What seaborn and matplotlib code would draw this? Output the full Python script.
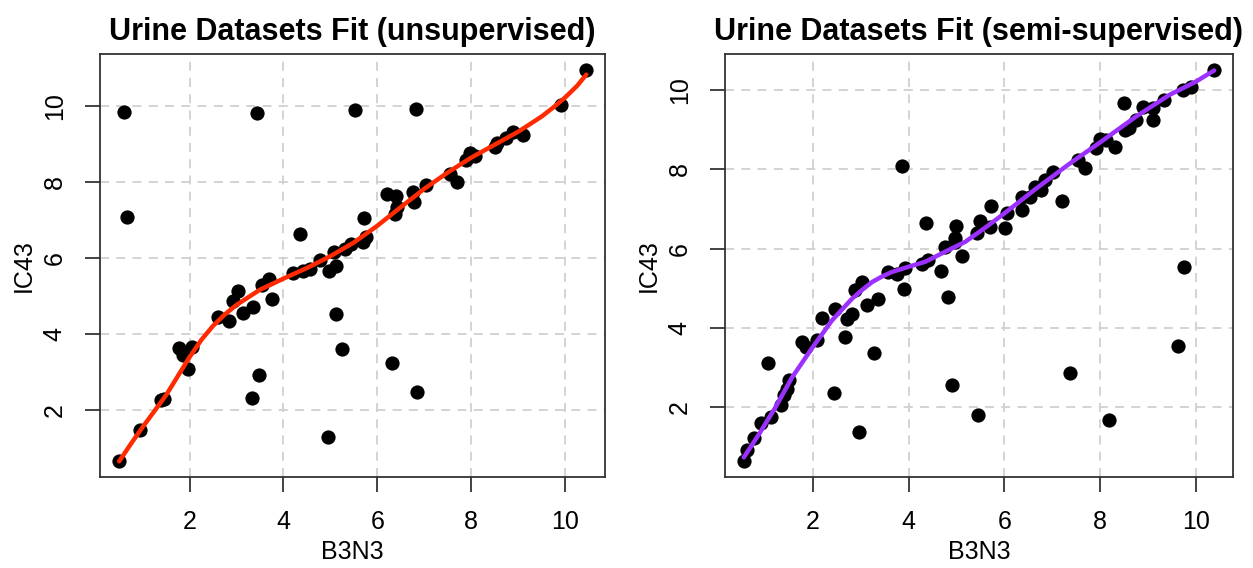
import pandas as pd
import seaborn as sns
import matplotlib.pyplot as plt

# points
unsup_x = [0.49, 0.95, 1.39, 1.46, 1.78, 1.87, 2.06, 1.97, 2.60, 2.83, 2.93, 3.03, 3.13, 3.36,
           3.55, 3.69, 3.76, 3.47, 3.33, 4.95, 5.12, 5.25, 4.21, 4.42, 4.56, 4.77, 4.98, 5.11,
           5.07, 5.30, 5.43, 5.69, 5.76, 5.71, 6.20, 6.39, 6.37, 6.42, 6.76, 6.78, 7.04, 7.55,
           7.69, 7.89, 7.97, 8.08, 8.50, 8.54, 8.75, 8.89, 9.10, 9.91, 10.45,
           0.60, 3.43, 5.53, 6.83, 0.67, 4.36, 6.32, 6.85]
unsup_y = [0.66, 1.49, 2.27, 2.29, 3.63, 3.45, 3.67, 3.08, 4.44, 4.35, 4.86, 5.14, 4.57, 4.72,
           5.30, 5.45, 4.93, 2.93, 2.33, 1.30, 4.53, 3.61, 5.62, 5.67, 5.72, 5.96, 5.65, 5.78,
           6.16, 6.25, 6.38, 6.42, 6.55, 7.06, 7.68, 7.63, 7.17, 7.34, 7.74, 7.48, 7.92, 8.22,
           8.00, 8.58, 8.75, 8.68, 8.93, 9.02, 9.15, 9.30, 9.23, 10.03, 10.95,
           9.83, 9.80, 9.90, 9.92, 7.08, 6.64, 3.25, 2.48]

# fitted curve, unsupervised
unsup_fit_x = [0.5, 0.75, 1.0, 1.25, 1.5, 1.75, 2.0, 2.25, 2.5, 2.75, 3.0, 3.5, 4.0, 4.5, 5.0,
               5.5, 6.0, 6.5, 7.0, 7.5, 8.0, 8.5, 9.0, 9.5, 9.75, 10.0, 10.25, 10.45]
unsup_fit_y = [0.66, 1.12, 1.56, 1.98, 2.40, 2.90, 3.40, 3.85, 4.22, 4.52, 4.77, 5.17, 5.46,
               5.74, 6.05, 6.41, 6.85, 7.34, 7.82, 8.25, 8.64, 8.98, 9.32, 9.72, 9.96, 10.22,
               10.52, 10.82]

# points
semi_x = [0.56, 0.63, 0.77, 0.91, 1.12, 1.07, 1.33, 1.40, 1.47, 1.50, 1.78, 1.85, 2.09, 2.20,
          2.47, 2.68, 2.72, 2.82, 2.89, 3.03, 3.13, 3.36, 3.28, 2.44, 2.96, 3.58, 3.76, 3.91,
          3.93, 4.28, 4.41, 4.68, 4.82, 4.76, 4.97, 5.11, 4.90, 5.45, 3.86, 4.36, 4.98, 5.49,
          4.96, 5.42, 5.70, 5.73, 6.05, 6.01, 6.36, 6.53, 6.36, 6.63, 6.77, 6.84, 7.02, 7.21,
          7.54, 7.68, 7.92, 7.99, 8.13, 8.31, 8.51, 8.61, 8.75, 8.49, 8.89, 9.10, 9.10, 9.34,
          9.72, 9.90, 10.38, 9.76, 9.62, 7.36, 8.18]
semi_y = [0.64, 0.93, 1.24, 1.60, 1.75, 3.13, 2.05, 2.30, 2.47, 2.69, 3.64, 3.52, 3.69, 4.26,
          4.49, 3.77, 4.23, 4.36, 4.95, 5.16, 4.57, 4.74, 3.37, 2.37, 1.39, 5.41, 5.37, 4.99,
          5.50, 5.61, 5.71, 5.44, 4.78, 6.03, 6.17, 5.81, 2.57, 1.82, 8.09, 6.65, 6.57, 6.69,
          6.26, 6.40, 6.55, 7.08, 6.89, 6.51, 7.31, 7.31, 6.97, 7.56, 7.47, 7.73, 7.94, 7.20,
          8.23, 8.02, 8.53, 8.76, 8.74, 8.55, 9.00, 9.03, 9.24, 9.66, 9.58, 9.54, 9.24, 9.75,
          10.00, 10.08, 10.51, 5.54, 3.54, 2.86, 1.69]

# fitted curve, semi-supervised
semi_fit_x = [0.56, 0.88, 1.22, 1.57, 2.0, 2.40, 2.82, 3.04, 3.24, 3.45, 3.65, 3.99, 4.35,
              4.76, 5.18, 5.58, 5.98, 6.67, 7.36, 7.99, 8.75, 9.44, 10.0, 10.38]
semi_fit_y = [0.74, 1.33, 2.0, 2.76, 3.52, 4.19, 4.74, 4.97, 5.16, 5.30, 5.41, 5.54, 5.67,
              5.92, 6.17, 6.51, 6.87, 7.52, 8.14, 8.67, 9.33, 9.87, 10.21, 10.49]

ticks = [2, 4, 6, 8, 10]

sns.set_style('white', {'text.color': 'black', 'axes.labelcolor': 'black',
                        'xtick.color': 'black', 'ytick.color': 'black'})
plt.rcParams['font.family'] = ['Liberation Sans', 'DejaVu Sans']

fig = plt.figure(figsize=(12.53, 5.68), dpi=100)
ax1 = fig.add_axes([100 / 1253, 91 / 568, 505 / 1253, 423 / 568])
ax2 = fig.add_axes([725 / 1253, 91 / 568, 508 / 1253, 423 / 568])

panels = [
    (ax1, unsup_x, unsup_y, unsup_fit_x, unsup_fit_y, '#FF2A00', 'Urine Datasets Fit (unsupervised)'),
    (ax2, semi_x, semi_y, semi_fit_x, semi_fit_y, '#9B30FF', 'Urine Datasets Fit (semi-supervised)'),
]

for ax, px, py, fx, fy, col, title in panels:
    pts = pd.DataFrame({'B3N3': px, 'IC43': py})
    fit = pd.DataFrame({'B3N3': fx, 'IC43': fy})
    for t in ticks:
        ax.axvline(t, color='#d0d0d0', lw=1.3, ls=(0, (5, 4)), zorder=0)
        ax.axhline(t, color='#d0d0d0', lw=1.3, ls=(0, (5, 4)), zorder=0)
    sns.scatterplot(data=pts, x='B3N3', y='IC43', ax=ax, color='black', s=105,
                    edgecolor='black', linewidth=0, zorder=2)
    sns.lineplot(data=fit, x='B3N3', y='IC43', ax=ax, color=col, lw=3.2, sort=False, zorder=3)
    ax.margins(x=0.04, y=0.04)
    ax.set_xticks(ticks)
    ax.set_yticks(ticks)
    ax.tick_params(axis='both', direction='out', length=11, width=1.2, color='#222222',
                   labelsize=18, pad=13, bottom=True, left=True)
    for lab in ax.get_yticklabels():
        lab.set_rotation(90)
        lab.set_va('center')
    for sp in ax.spines.values():
        sp.set_visible(True)
        sp.set_color('#333333')
        sp.set_linewidth(1.3)
    ax.set_title(title, fontsize=22, fontweight='bold', pad=10)
    ax.set_xlabel('B3N3', fontsize=18, labelpad=4)
    ax.set_ylabel('IC43', fontsize=18, labelpad=5)

fig.savefig('out.png', dpi=100)
